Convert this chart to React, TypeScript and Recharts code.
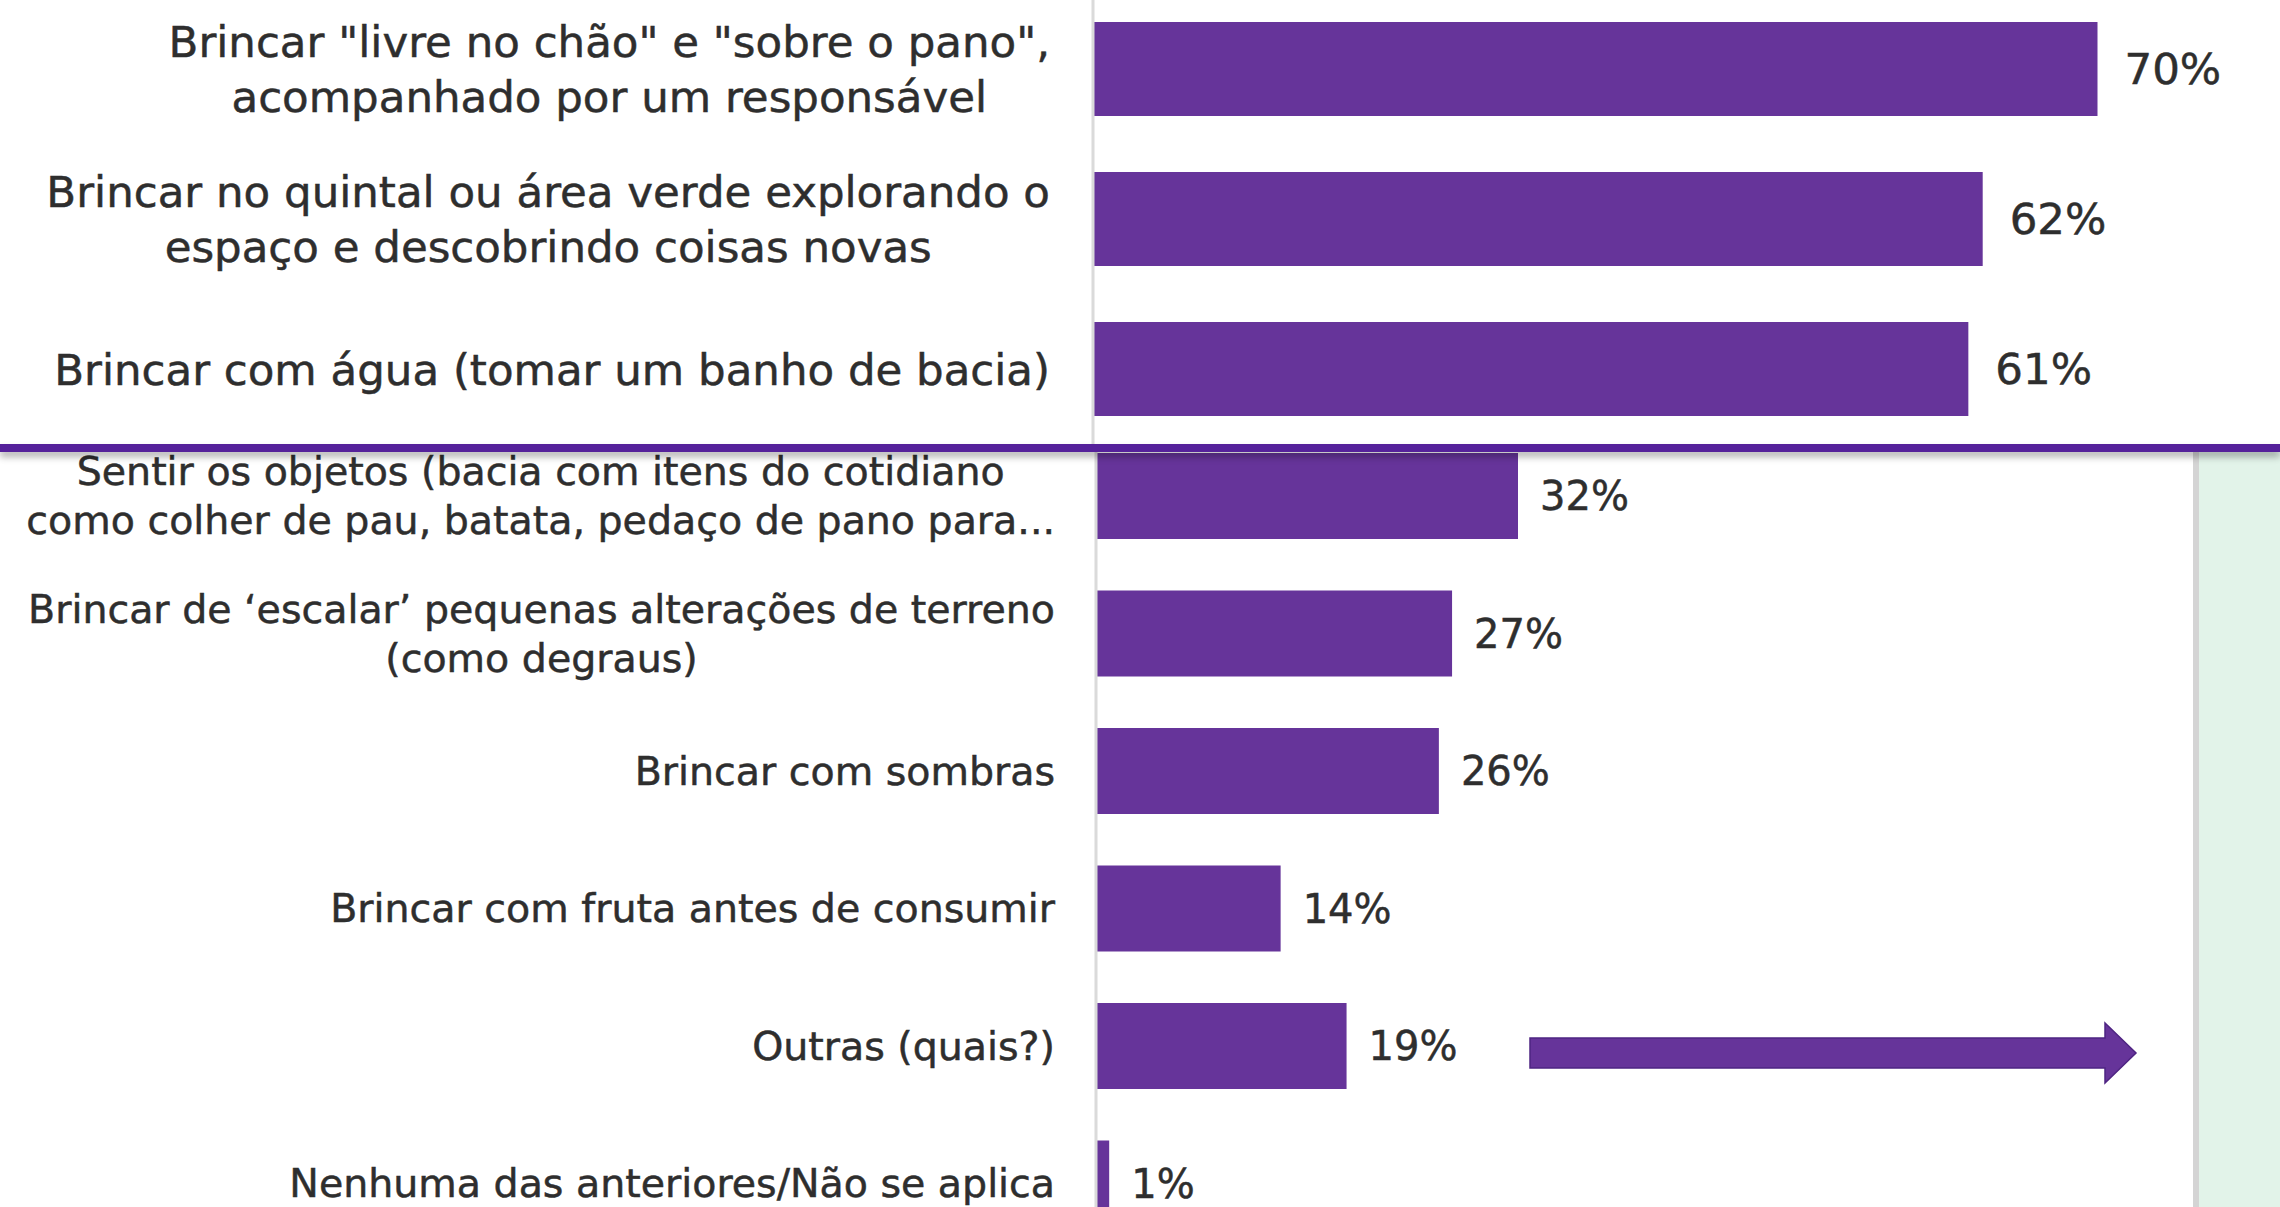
import React from "react";
import { BarChart, Bar, XAxis, YAxis, LabelList } from "recharts";

// upper panel (own scale)
const topCategories = [
  "Brincar \"livre no chão\" e \"sobre o pano\",\nacompanhado por um responsável",
  "Brincar no quintal ou área verde explorando o\nespaço e descobrindo coisas novas",
  "Brincar com água (tomar um banho de bacia)",
];
const topValues = [70, 62, 61];

// lower panel (own scale)
const bottomCategories = [
  "Sentir os objetos (bacia com itens do cotidiano\ncomo colher de pau, batata, pedaço de pano para...",
  "Brincar de ‘escalar’ pequenas alterações de terreno\n(como degraus)",
  "Brincar com sombras",
  "Brincar com fruta antes de consumir",
  "Outras (quais?)",
  "Nenhuma das anteriores/Não se aplica",
];
const bottomValues = [32, 27, 26, 14, 19, 1];

const FONT = '"DejaVu Sans", sans-serif';
const PURPLE = "#66349a";
const TEXT = "#2e2e2e";

const topData = topCategories.map((name, i) => ({ name, value: topValues[i] }));
const bottomData = bottomCategories.map((name, i) => ({ name, value: bottomValues[i] }));

let ctx: CanvasRenderingContext2D | null = null;
function measure(text: string, size: number) {
  if (!ctx) ctx = document.createElement("canvas").getContext("2d");
  if (!ctx) return text.length * size * 0.55;
  ctx.font = `${size}px ${FONT}`;
  return ctx.measureText(text).width;
}

// lines centered inside a block that is right-aligned at the tick x
const MultiLineTick = (props: any) => {
  const { x, y, payload, fontSize, lineGap } = props;
  const lines = String(payload.value).split("\n");
  const maxW = Math.max(...lines.map((l) => measure(l, fontSize)));
  const cx = x - maxW / 2;
  return (
    <g>
      {lines.map((l, i) => (
        <text
          key={i}
          x={cx}
          y={y + (i - (lines.length - 1) / 2) * lineGap}
          dy={fontSize * 0.36}
          textAnchor="middle"
          fill={TEXT}
          stroke={TEXT}
          strokeWidth={0.5}
          fontSize={fontSize}
          fontFamily={FONT}
        >
          {l}
        </text>
      ))}
    </g>
  );
};

export default function App() {
  return (
    <div style={{ position: "absolute", left: 0, top: 0, width: 2280, height: 1207, overflow: "hidden", background: "#fff" }}>
      {/* green side panel */}
      <div style={{ position: "absolute", left: 2193, top: 452, width: 81, height: 755, background: "#e2f3e9", borderLeft: "6px solid #d4d4d4" }} />

      {/* lower chart */}
      <div style={{ position: "absolute", left: 0, top: 427 }}>
        <BarChart width={2280} height={825} data={bottomData} layout="vertical" margin={{ top: 0, right: 129, left: 0, bottom: 0 }}>
          <XAxis type="number" domain={[0, 80]} hide />
          <YAxis
            type="category"
            dataKey="name"
            width={1096}
            tickLine={false}
            tickSize={0}
            tickMargin={41}
            axisLine={{ stroke: "#dadada", strokeWidth: 3 }}
            interval={0}
            tick={(p: any) => <MultiLineTick {...p} fontSize={39.5} lineGap={49} />}
          />
          <Bar dataKey="value" fill={PURPLE} barSize={86} isAnimationActive={false}>
            <LabelList dataKey="value" position="right" offset={22} formatter={(v: any) => `${v}%`} fill={TEXT} stroke={TEXT} strokeWidth={0.5} fontSize={40} fontFamily={FONT} />
          </Bar>
        </BarChart>
      </div>

      {/* arrow pointing to the side panel */}
      <svg style={{ position: "absolute", left: 0, top: 0 }} width={2280} height={1207}>
        <polygon
          points="1530,1038 2105,1038 2105,1023 2136,1053 2105,1083 2105,1068 1530,1068"
          fill={PURPLE}
          stroke="#4e2482"
          strokeWidth={1.5}
        />
      </svg>

      {/* upper chart on white */}
      <div style={{ position: "absolute", left: 0, top: 0, width: 2280, height: 444, overflow: "hidden", background: "#fff" }}>
        <div style={{ position: "absolute", left: 0, top: -6 }}>
          <BarChart width={2280} height={450} data={topData} layout="vertical" margin={{ top: 0, right: 39, left: 0, bottom: 0 }}>
            <XAxis type="number" domain={[0, 80]} hide />
            <YAxis
              type="category"
              dataKey="name"
              width={1093}
              tickLine={false}
              tickSize={0}
              tickMargin={43}
              axisLine={{ stroke: "#dadada", strokeWidth: 3 }}
              interval={0}
              tick={(p: any) => <MultiLineTick {...p} fontSize={43.5} lineGap={55} />}
            />
            <Bar dataKey="value" fill={PURPLE} barSize={94} isAnimationActive={false}>
              <LabelList dataKey="value" position="right" offset={27} formatter={(v: any) => `${v}%`} fill={TEXT} stroke={TEXT} strokeWidth={0.5} fontSize={43.5} fontFamily={FONT} />
            </Bar>
          </BarChart>
        </div>
      </div>

      {/* divider between the two panels */}
      <div style={{ position: "absolute", left: 0, top: 444, width: 2280, height: 8, background: "#55219a", boxShadow: "0 5px 7px rgba(0,0,0,0.3)" }} />
    </div>
  );
}
